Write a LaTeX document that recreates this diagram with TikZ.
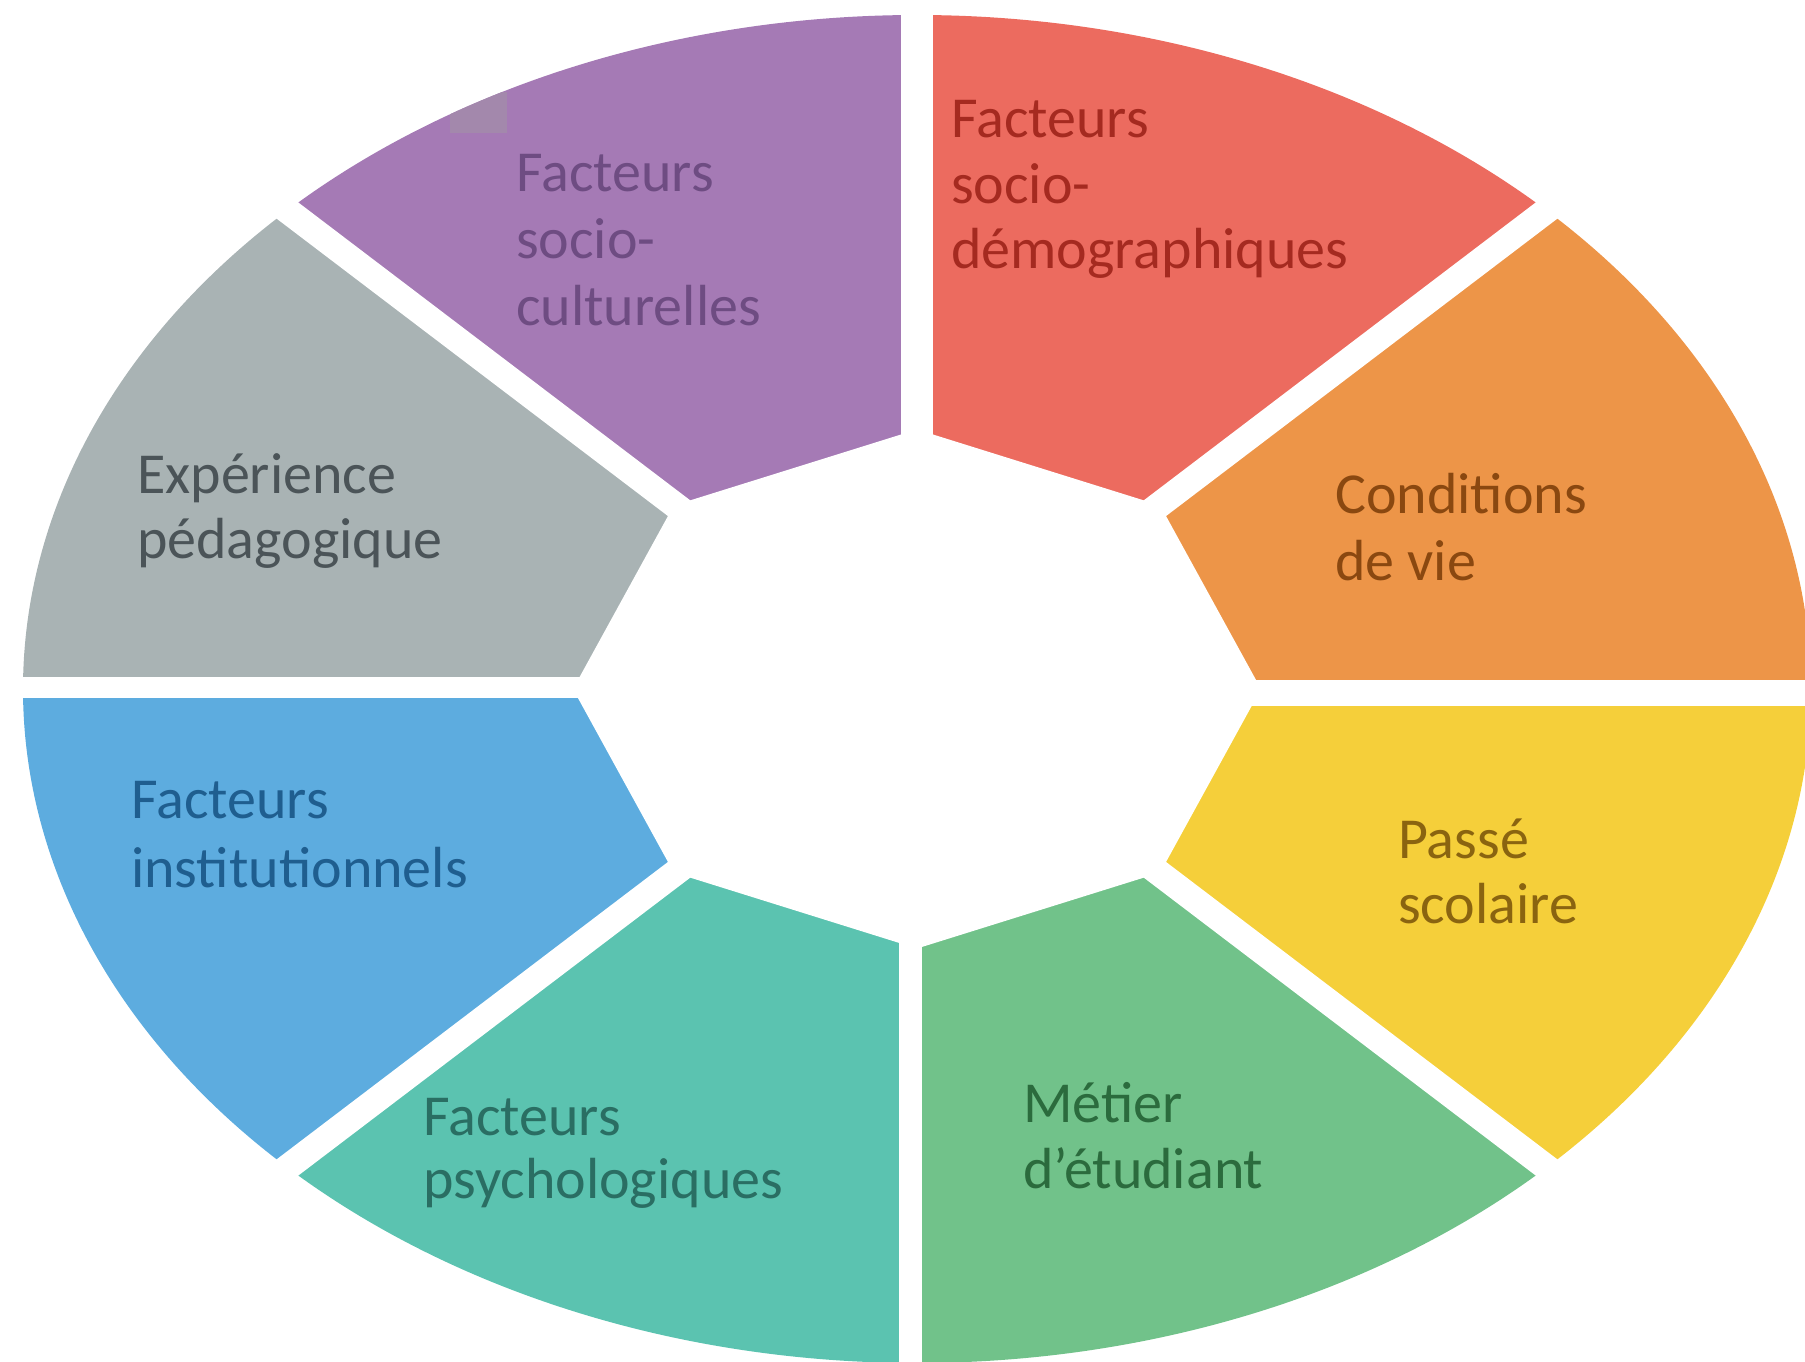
\documentclass[tikz,border=0pt]{standalone}
\usepackage{fontspec}
\setmainfont{Carlito}
\definecolor{cOrange}{HTML}{ED9548}
\definecolor{cRed}{HTML}{EC6B5F}
\definecolor{cPurple}{HTML}{A57AB5}
\definecolor{cGray}{HTML}{A9B3B4}
\definecolor{cBlue}{HTML}{5DACDF}
\definecolor{cTeal}{HTML}{5BC3B0}
\definecolor{cGreen}{HTML}{71C28A}
\definecolor{cYellow}{HTML}{F5CF3A}
\definecolor{cPatch}{HTML}{A388AC}
\definecolor{tOrange}{HTML}{8A4810}
\definecolor{tRed}{HTML}{A52A20}
\definecolor{tPurple}{HTML}{6E4C82}
\definecolor{tGray}{HTML}{4B5458}
\definecolor{tBlue}{HTML}{1F5E8F}
\definecolor{tTeal}{HTML}{2A6E63}
\definecolor{tGreen}{HTML}{2B6B3D}
\definecolor{tYellow}{HTML}{8A6410}
\begin{document}
\begin{tikzpicture}[x=1pt,y=1pt,
  lbl/.style={anchor=base west, inner sep=0pt, font=\fontsize{58}{66}\selectfont},
  gapline/.style={draw=white, line cap=butt}]
\useasboundingbox (0,0) rectangle (1805,-1362);
\clip (0,0) rectangle (1805,-1362);
\coordinate (C) at (917,-689);
% sectors
\foreach \a/\b/\c in {0/45/cOrange, 45/90/cRed, 90/135/cPurple, 135/180/cGray,
                      180/225/cBlue, 225/270/cTeal, 270/315/cGreen, 315/360/cYellow}
  \fill[\c] (C) -- ++(\a:894 and 674) arc[start angle=\a, end angle=\b, x radius=894, y radius=674] -- cycle;
% small patch in purple sector
\begin{scope}
  \clip (C) -- ++(90:894 and 674) arc[start angle=90, end angle=135, x radius=894, y radius=674] -- cycle;
  \fill[cPatch] (450,-92) rectangle (507,-133);
\end{scope}
% inner hole
\begin{scope}[shift={(917,-689)}]
  \fill[white] (0:344 and 259.5) -- (45:344 and 259.5) -- (90:344 and 259.5) -- (135:344 and 259.5)
     -- (180:344 and 259.5) -- (225:344 and 259.5) -- (270:344 and 259.5) -- (315:344 and 259.5) -- cycle;
\end{scope}
% gaps
\coordinate (gT) at (917,20);
\coordinate (gB0) at (910.5,-689);
\coordinate (gB) at (910.5,-1380);
\coordinate (gL0) at (917,-687.5);
\coordinate (gL) at (-20,-687.5);
\coordinate (gR0) at (917,-693);
\coordinate (gR) at (1830,-693);
\draw[gapline, line width=32pt] (C) -- (gT);
\draw[gapline, line width=23pt] (gB0) -- (gB);
\draw[gapline, line width=21pt] (gL0) -- (gL);
\draw[gapline, line width=26pt] (gR0) -- (gR);
\foreach \a in {45,135,225,315}
  \draw[gapline, line width=26pt] (C) -- ++(\a:1000 and 760);
% labels
\node[lbl, text=tPurple] (pur1) at (516,-191) {Facteurs};
\node[lbl, text=tPurple] (pur2) at (516,-258) {socio-};
\node[lbl, text=tPurple] (pur3) at (516,-325) {culturelles};
\node[lbl, text=tRed] (red1) at (951,-138) {Facteurs};
\node[lbl, text=tRed] (red2) at (951,-203) {socio-};
\node[lbl, text=tRed] (red3) at (951,-268) {démographiques};
\node[lbl, text=tOrange] (ora1) at (1335,-513) {Conditions};
\node[lbl, text=tOrange] (ora2) at (1335,-580) {de vie};
\node[lbl, text=tYellow] (yel1) at (1398,-858) {Passé};
\node[lbl, text=tYellow] (yel2) at (1398,-923) {scolaire};
\node[lbl, text=tGreen] (gre1) at (1023,-1122) {Métier};
\node[lbl, text=tGreen] (gre2) at (1023,-1188) {d’étudiant};
\node[lbl, text=tTeal] (tea1) at (423,-1135) {Facteurs};
\node[lbl, text=tTeal] (tea2) at (423,-1198) {psychologiques};
\node[lbl, text=tBlue] (blu1) at (131,-818) {Facteurs};
\node[lbl, text=tBlue] (blu2) at (131,-887) {institutionnels};
\node[lbl, text=tGray] (gra1) at (137,-493) {Expérience};
\node[lbl, text=tGray] (gra2) at (137,-558) {pédagogique};
\end{tikzpicture}
\end{document}
